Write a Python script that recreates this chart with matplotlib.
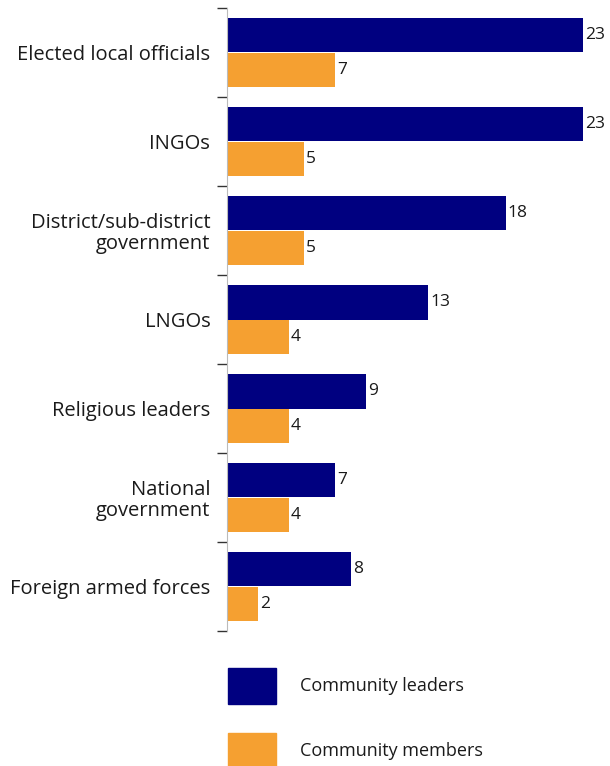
import matplotlib.pyplot as plt
import numpy as np
from matplotlib.patches import Patch

plt.rcParams['font.family'] = ['Open Sans', 'DejaVu Sans']

categories = ['Elected local officials', 'INGOs', 'District/sub-district\ngovernment',
              'LNGOs', 'Religious leaders', 'National\ngovernment', 'Foreign armed forces']
leaders = [23, 23, 18, 13, 9, 7, 8]
members = [7, 5, 5, 4, 4, 4, 2]

navy = '#000080'
orange = '#F5A031'
textColor = '#1a1a1a'

fig = plt.figure(figsize=[6.1, 7.66], dpi=100)
ax = fig.add_axes([227/610, 1 - 631/766, 356/610, 623/766])

y = np.arange(len(categories))
h = 0.39
barsL = ax.barh(y - h/2, leaders, height=h, color=navy, label='Community leaders')
barsM = ax.barh(y + h/2, members, height=h, color=orange, label='Community members')

for bars in (barsL, barsM):
    for b in bars:
        ax.text(b.get_width() + 0.12, b.get_y() + b.get_height()/2, str(int(b.get_width())),
                va='center', ha='left', fontsize=12.5, color=textColor, clip_on=False)

ax.set_xlim(0, 23)
ax.set_ylim(len(categories) - 0.5, -0.5)
ax.set_yticks(y)
ax.set_yticklabels(categories, fontsize=14.5, color=textColor, ha='right', multialignment='right',
                   linespacing=1.05)
ax.set_yticks(np.arange(-0.5, len(categories)), minor=True)
ax.tick_params(axis='y', which='major', length=0, pad=12)
ax.tick_params(axis='y', which='minor', length=7, color='#333333', width=1)
ax.set_xticks([])
for s in ['top', 'right', 'bottom']:
    ax.spines[s].set_visible(False)
ax.spines['left'].set_color('#bbbbbb')

handles = [Patch(color=navy, label='Community leaders'), Patch(color=orange, label='Community members')]
fig.legend(handles=handles, loc='upper left', bbox_to_anchor=(228/610, 1 - 668/766),
           frameon=False, fontsize=13, handlelength=2.67, handleheight=2.7,
           labelspacing=1.6, handletextpad=1.33, borderpad=0, borderaxespad=0,
           labelcolor=textColor)

fig.savefig('out.png', dpi=100)
